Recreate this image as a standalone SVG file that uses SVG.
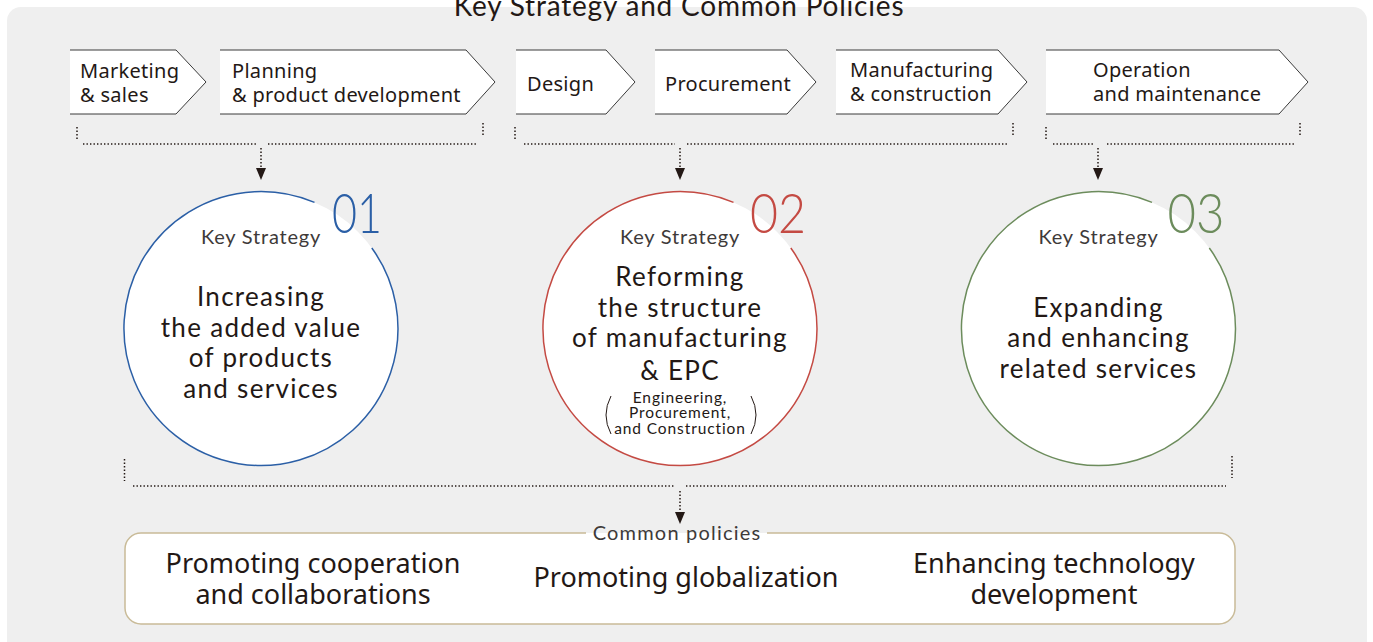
<svg xmlns="http://www.w3.org/2000/svg" width="1373" height="642" viewBox="0 0 1373 642">
<defs>
<style>
.panel{fill:#efefef}
.chev{fill:#fff;stroke:#3a3a3a;stroke-width:1}
.ct{font-family:"Noto Sans","Liberation Sans",sans-serif;font-size:20px;letter-spacing:0.3px;fill:#231815}
.title{font-family:"Lato","Noto Sans",sans-serif;font-size:28px;letter-spacing:0.8px;fill:#231815}
.dot{fill:none;stroke:#231815;stroke-width:1.5;stroke-dasharray:1.4 2.1}
.circ{fill:#fff}
.ks{font-family:"Lato","Noto Sans",sans-serif;font-size:20px;letter-spacing:0.8px;fill:#3e3a39;text-anchor:middle}
.mt{font-family:"Lato","Noto Sans",sans-serif;font-size:26px;letter-spacing:1.3px;fill:#231815;text-anchor:middle}
.st{font-family:"Lato","Noto Sans",sans-serif;font-size:15.5px;letter-spacing:0.9px;fill:#231815;text-anchor:middle}
.num{font-family:"Lato","Noto Sans",sans-serif;font-weight:300;font-size:56px;text-anchor:middle}
.pol{font-family:"Noto Sans","Liberation Sans",sans-serif;font-size:27px;fill:#231815;text-anchor:middle}
.cpl{font-family:"Lato","Noto Sans",sans-serif;font-size:20px;letter-spacing:1.2px;fill:#3e3a39;text-anchor:middle}
</style>
<marker id="ah" markerUnits="userSpaceOnUse" markerWidth="14" markerHeight="12" viewBox="0 -6 14 12" refX="0" refY="0" orient="auto">
<path d="M0,-5 L12,0 L0,5 z" fill="#231815"/>
</marker>
</defs>
<rect class="panel" x="7" y="7" width="1360" height="660" rx="14"/>
<text class="title" x="679" y="16" text-anchor="middle">Key Strategy and Common Policies</text>

<g id="stage-marketing">
<path class="chev" d="M70,50 H176 L206,82 L176,114 H70"/>
<text class="ct" x="80" y="78">Marketing</text>
<text class="ct" x="80" y="102">&amp; sales</text>
</g>
<g id="stage-planning">
<path class="chev" d="M220,50 H466 L495,82 L466,114 H220"/>
<text class="ct" x="232" y="78">Planning</text>
<text class="ct" x="232" y="102">&amp; product development</text>
</g>
<g id="stage-design">
<path class="chev" d="M516,50 H606 L635,82 L606,114 H516"/>
<text class="ct" x="527" y="91">Design</text>
</g>
<g id="stage-procurement">
<path class="chev" d="M655,50 H787 L816,82 L787,114 H655"/>
<text class="ct" x="665" y="91">Procurement</text>
</g>
<g id="stage-manufacturing">
<path class="chev" d="M836,50 H998 L1027,82 L998,114 H836"/>
<text class="ct" x="850" y="77">Manufacturing</text>
<text class="ct" x="850" y="101">&amp; construction</text>
</g>
<g id="stage-operation">
<path class="chev" d="M1046,50 H1279 L1308,82 L1279,114 H1046"/>
<text class="ct" x="1093" y="77">Operation</text>
<text class="ct" x="1093" y="101">and maintenance</text>
</g>

<g id="connectors">
<path class="dot" d="M77,127 V139 M83,144 H257 M268,144 H478 M483,123 V135"/>
<path class="dot" d="M261,148 V168" marker-end="url(#ah)"/>
<path class="dot" d="M515,127 V139 M524,144 H675 M687,144 H1008 M1013,123 V135"/>
<path class="dot" d="M680,148 V168" marker-end="url(#ah)"/>
<path class="dot" d="M1046,127 V139 M1053,144 H1093 M1107,144 H1295 M1300,123 V135"/>
<path class="dot" d="M1098,148 V168" marker-end="url(#ah)"/>
<path class="dot" d="M124.5,459 V481 M133,486 H675 M686,486 H1226 M1232,456 V478"/>
<path class="dot" d="M680,491 V512" marker-end="url(#ah)"/>
</g>

<g id="strategy-01">
<circle class="circ" cx="261" cy="328.5" r="137"/>
<path d="M371.8,248 A137,137 0 1 1 314.5,202.4" fill="none" stroke="#2b5fa6" stroke-width="1.5"/>
<text class="num" x="357" y="233" fill="#2b5fa6" textLength="50" lengthAdjust="spacingAndGlyphs">01</text>
<text class="ks" x="261" y="244">Key Strategy</text>
<text class="mt" x="261" y="306">Increasing</text>
<text class="mt" x="261" y="337">the added value</text>
<text class="mt" x="261" y="367">of products</text>
<text class="mt" x="261" y="398">and services</text>
</g>

<g id="strategy-02">
<circle class="circ" cx="680" cy="328.5" r="137"/>
<path d="M790.8,248 A137,137 0 1 1 733.5,202.4" fill="none" stroke="#c44a43" stroke-width="1.5"/>
<text class="num" x="778" y="233" fill="#c44a43" textLength="56" lengthAdjust="spacingAndGlyphs">02</text>
<text class="ks" x="680" y="244">Key Strategy</text>
<text class="mt" x="680" y="286">Reforming</text>
<text class="mt" x="680" y="317">the structure</text>
<text class="mt" x="680" y="347">of manufacturing</text>
<text class="mt" x="680" y="380">&amp; EPC</text>
<text class="st" x="680" y="403">Engineering,</text>
<text class="st" x="680" y="418">Procurement,</text>
<text class="st" x="680" y="434">and Construction</text>
<path d="M611,396 Q601,415 611,434" fill="none" stroke="#231815" stroke-width="1"/>
<path d="M751,396 Q761,415 751,434" fill="none" stroke="#231815" stroke-width="1"/>
</g>

<g id="strategy-03">
<circle class="circ" cx="1098.5" cy="328.5" r="137"/>
<path d="M1209.3,248 A137,137 0 1 1 1152,202.4" fill="none" stroke="#6c8c5c" stroke-width="1.5"/>
<text class="num" x="1196" y="233" fill="#6c8c5c" textLength="57" lengthAdjust="spacingAndGlyphs">03</text>
<text class="ks" x="1098.5" y="244">Key Strategy</text>
<text class="mt" x="1098.5" y="317">Expanding</text>
<text class="mt" x="1098.5" y="347">and enhancing</text>
<text class="mt" x="1098.5" y="378">related services</text>
</g>

<g id="common-policies">
<rect x="125" y="533" width="1110" height="91" rx="16" fill="#fff"/>
<path d="M586,533 H141 A16,16 0 0 0 125,549 V608 A16,16 0 0 0 141,624 H1219 A16,16 0 0 0 1235,608 V549 A16,16 0 0 0 1219,533 H767" fill="none" stroke="#c9bb98" stroke-width="1.5"/>
<text class="cpl" x="677" y="540">Common policies</text>
<text class="pol" x="313" y="573">Promoting cooperation</text>
<text class="pol" x="313" y="604">and collaborations</text>
<text class="pol" x="686" y="587">Promoting globalization</text>
<text class="pol" x="1054" y="573">Enhancing technology</text>
<text class="pol" x="1054" y="604">development</text>
</g>
</svg>
